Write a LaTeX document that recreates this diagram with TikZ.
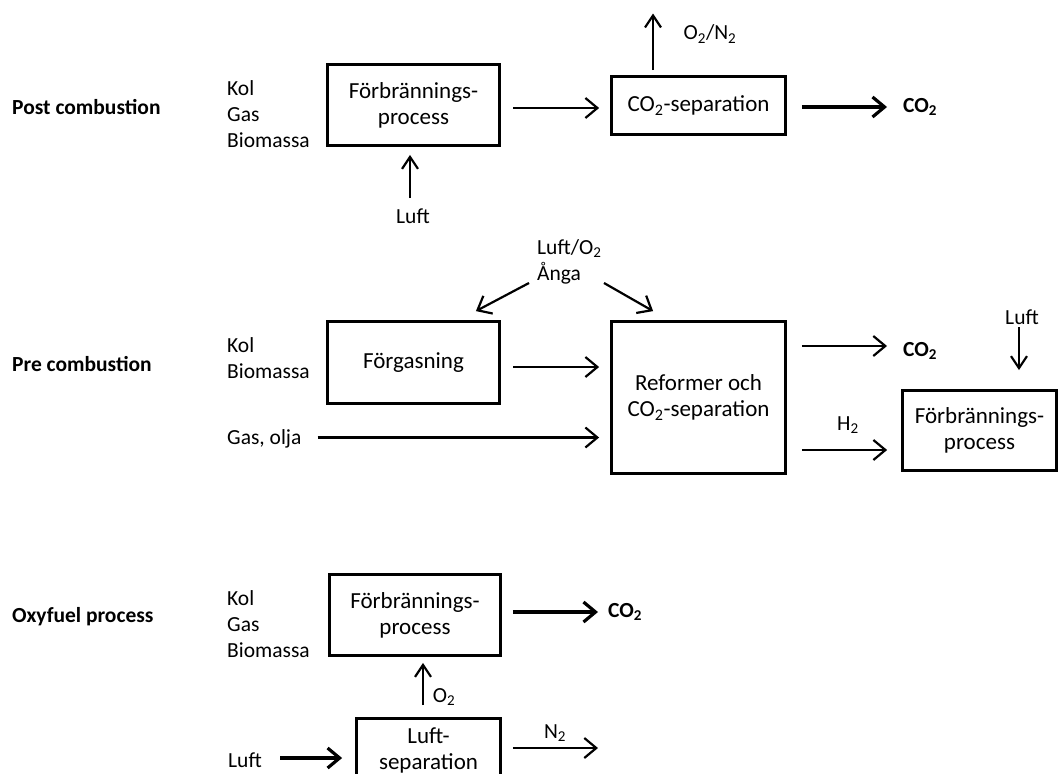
\documentclass[tikz,border=0pt]{standalone}
\usepackage{fontspec}
\setmainfont{Carlito}
\usetikzlibrary{arrows.meta,calc}
\tikzset{
 box/.style={draw,line width=2.8pt,align=center,inner sep=0pt,font=\fontsize{23}{26}\selectfont},
 lbl/.style={inner sep=0pt,align=left,font=\fontsize{21.5}{26}\selectfont},
 ttl/.style={inner sep=0pt,font=\bfseries\fontsize{21.5}{26}\selectfont},
 arr/.style={line width=2.2pt,-{Straight Barb[length=12pt,width=20pt]}},
 varr/.style={line width=2.2pt,-{Straight Barb[length=12pt,width=16pt]}},
 tarr/.style={line width=3.2pt,-{Straight Barb[length=12pt,width=20pt]}},
}
\begin{document}
\begin{tikzpicture}[x=1pt,y=-1pt]
\useasboundingbox (0,0) rectangle (1061,774);
\fill[white] (0,0) rectangle (1061,774);
\clip (0,0) rectangle (1061,774);
% ---------- Post combustion ----------
\node[ttl,anchor=west] (t1) at (12,107) {Post combustion};
\node[lbl,anchor=west] (f1) at (227,114) {Kol\\Gas\\Biomassa};
\node[box,minimum width=172pt,minimum height=81pt] (b1) at (413.5,105) {Förbrännings-\\process};
\node[box,minimum width=174pt,minimum height=58pt] (b2) at (698.5,105.5) {CO\textsubscript{2}-separation};
\node[lbl] (l1) at (413,216) {Luft};
\node[lbl] (o1) at (710,34) {O\textsubscript{2}/N\textsubscript{2}};
\node[ttl,anchor=west] (co1) at (903,107) {CO\textsubscript{2}};
\coordinate (c1) at (410,198);
\draw[varr,shorten >=8pt] (c1) -- (c1 |- b1.south);
\draw[arr,shorten <=12.5pt,shorten >=11pt] ([yshift=-3pt]b1.east) -- ([yshift=-3pt]b1.east -| b2.west);
\coordinate (c2) at (653,13.5);
\draw[varr,shorten <=5pt] (c2 |- b2.north) -- (c2);
\coordinate (c3) at (887,107);
\draw[tarr,shorten <=15pt] (c3 -| b2.east) -- (c3);
% ---------- Pre combustion ----------
\node[ttl,anchor=west] (t2) at (12,364) {Pre combustion};
\node[lbl,anchor=west] (f2) at (227,358) {Kol\\Biomassa};
\node[lbl,anchor=west] (g2) at (227,439) {Gas, olja};
\node[lbl,anchor=west] (lo) at (537,262) {Luft/O\textsubscript{2}\\Ånga};
\node[box,minimum width=172pt,minimum height=82pt] (b3) at (413.5,362.5) {Förgasning};
\node[box,minimum width=174pt,minimum height=152pt] (b4) at (698.5,397.5) {Reformer och\\CO\textsubscript{2}-separation};
\node[box,minimum width=154pt,minimum height=80pt] (b5) at (979.5,430.5) {Förbrännings-\\process};
\node[ttl,anchor=west] (co2) at (903,351) {CO\textsubscript{2}};
\node[lbl] (h2) at (848,425) {H\textsubscript{2}};
\node[lbl] (l2) at (1022,317) {Luft};
\coordinate (c4) at (529,283);
\draw[arr] (c4) -- ([shift={(-25,-9)}]b3.north east);
\coordinate (c5) at (604,283);
\draw[arr] (c5) -- ([shift={(43,-9)}]b4.north west);
\draw[arr,shorten <=12.5pt,shorten >=11pt] ([yshift=-4.5pt]b3.east) -- ([yshift=-4.5pt]b3.east -| b4.west);
\coordinate (c6) at (317.5,437.5);
\draw[arr,shorten >=11pt] (c6) -- (c6 -| b4.west);
\coordinate (c7) at (887,346);
\draw[arr,shorten <=15pt] (c7 -| b4.east) -- (c7);
\draw[arr,shorten <=15pt,shorten >=14pt] ([yshift=-52.5pt]b4.east) -- ([yshift=-52.5pt]b4.east -| b5.west);
\coordinate (c8) at (1019,327);
\draw[varr,shorten >=19pt] (c8) -- (c8 |- b5.north);
% ---------- Oxyfuel ----------
\node[ttl,anchor=west] (t3) at (12,617) {Oxyfuel process};
\node[lbl,anchor=west] (f3) at (227,624) {Kol\\Gas\\Biomassa};
\node[box,minimum width=171pt,minimum height=81pt] (b6) at (415,615) {Förbrännings-\\process};
\node[box,minimum width=144pt,minimum height=63pt] (b7) at (428.5,750) {Luft-\\separation};
\node[ttl,anchor=west] (co3) at (608,612) {CO\textsubscript{2}};
\node[lbl] (o3) at (444,697) {O\textsubscript{2}};
\node[lbl,anchor=west] (l3) at (228,760) {Luft};
\node[lbl] (n3) at (555,733) {N\textsubscript{2}};
\coordinate (c9) at (598,612);
\draw[tarr,shorten <=11pt] (c9 -| b6.east) -- (c9);
\coordinate (c10) at (423,705);
\draw[varr,shorten >=6pt] (c10) -- (c10 |- b6.south);
\coordinate (c11) at (280,758);
\draw[tarr,shorten >=13pt] (c11) -- (c11 -| b7.west);
\coordinate (c12) at (598,748);
\draw[arr,shorten <=11pt] (c12 -| b7.east) -- (c12);
\end{tikzpicture}
\end{document}
